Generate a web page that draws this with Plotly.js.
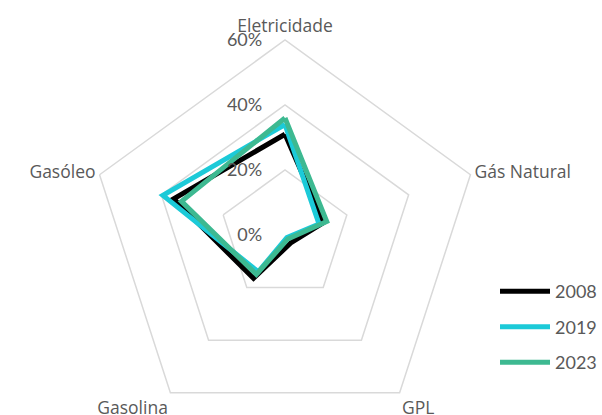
<!DOCTYPE html>
<html>
<head>
<meta charset="utf-8">
<script src="https://cdn.plot.ly/plotly-3.0.1.min.js"></script>
<style>
html, body { margin: 0; padding: 0; overflow: hidden; background: #fff; }
</style>
</head>
<body>
<div id="graph"></div>
<script>
var categories = ["Eletricidade", "Gás Natural", "GPL", "Gasolina", "Gasóleo"];
var years = ["2008", "2019", "2023"];
var v2008 = [31, 12.5, 3, 16.5, 36];
var v2019 = [34, 11, 1, 14, 39.5];
var v2023 = [36, 13.5, 1.5, 15, 33.5];
var radialTicks = [0, 20, 40, 60];
var radialLabels = ["0%", "20%", "40%", "60%"];

var colors = ["#000000", "#1ccad8", "#3db991"];
var FONT = "Lato, 'Liberation Sans', sans-serif";
var CAT_FONT = "'Open Sans', Lato, sans-serif";
var GREY = "#595959";

function closeLoop(a)
{
	return a.concat([a[0]]);
}

function genGraph()
{
	var series = [v2008, v2019, v2023];
	var data = [];
	var i;

	for (i = 0; i < series.length; i++)
	{
		data.push({
			type: "scatterpolar",
			mode: "lines",
			name: years[i],
			legendgroup: years[i],
			r: closeLoop(series[i]),
			theta: closeLoop(categories),
			line: { color: colors[i], width: 5, shape: "linear" },
			hoverinfo: "skip"
		});
	}

	var layout =
	{
		width: 602,
		height: 450,
		margin: { l: 90, r: 122, t: 40, b: 20, autoexpand: false },
		paper_bgcolor: "#ffffff",
		font: { family: FONT, color: GREY, size: 16 },
		showlegend: true,
		legend:
		{
			xref: "container",
			yref: "container",
			x: 1,
			y: 0.393,
			xanchor: "right",
			yanchor: "top",
			traceorder: "grouped",
			tracegroupgap: 9,
			itemwidth: 50,
			font: { family: FONT, color: GREY, size: 18 }
		},
		polar:
		{
			bgcolor: "rgba(0,0,0,0)",
			gridshape: "linear",
			radialaxis:
			{
				range: [0, 60],
				angle: 90,
				tickangle: 90,
				tickvals: radialTicks,
				ticktext: radialLabels,
				showline: false,
				ticks: "outside",
				ticklen: 16,
				tickcolor: "rgba(0,0,0,0)",
				gridcolor: "#d9d9d9",
				gridwidth: 1.5,
				tickfont: { family: FONT, color: GREY, size: 18 },
				side: "counterclockwise"
			},
			angularaxis:
			{
				type: "category",
				categoryarray: categories,
				rotation: 90,
				direction: "clockwise",
				showgrid: false,
				showline: true,
				linecolor: "#d9d9d9",
				linewidth: 1.5,
				ticks: "",
				tickfont: { family: CAT_FONT, color: GREY, size: 17.5 }
			}
		}
	};

	Plotly.newPlot("graph", data, layout, { displayModeBar: false, staticPlot: true });
}

genGraph();
</script>
</body>
</html>
